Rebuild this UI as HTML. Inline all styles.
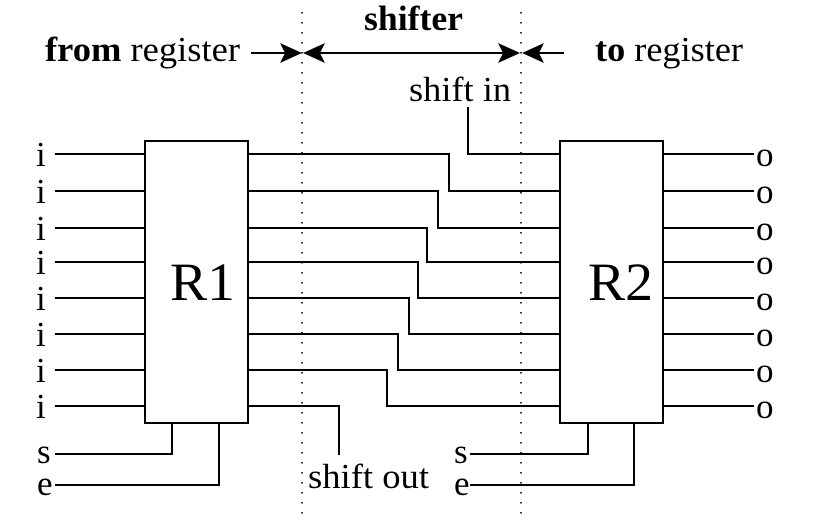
<!DOCTYPE html>
<html><head><meta charset="utf-8"><style>html,body{margin:0;padding:0;background:#fff}svg{display:block}</style></head>
<body>
<svg width="831" height="526" viewBox="0 0 831 526" xmlns="http://www.w3.org/2000/svg" font-family="'Liberation Serif', serif" fill="#000">
<g stroke="#000" stroke-width="1.6" fill="none" stroke-dasharray="1.5 8.5">
<line x1="302" y1="12" x2="302" y2="515"/>
<line x1="521" y1="12" x2="521" y2="515"/>
</g>
<g stroke="#000" stroke-width="2" fill="none">
<rect x="145" y="141" width="103" height="282"/>
<rect x="560" y="141" width="103" height="282"/>
<line x1="55" y1="154" x2="145" y2="154"/>
<line x1="55" y1="191" x2="145" y2="191"/>
<line x1="55" y1="228" x2="145" y2="228"/>
<line x1="55" y1="262" x2="145" y2="262"/>
<line x1="55" y1="298" x2="145" y2="298"/>
<line x1="55" y1="334" x2="145" y2="334"/>
<line x1="55" y1="370" x2="145" y2="370"/>
<line x1="55" y1="406" x2="145" y2="406"/>
<line x1="663" y1="154" x2="754" y2="154"/>
<line x1="663" y1="191" x2="754" y2="191"/>
<line x1="663" y1="228" x2="754" y2="228"/>
<line x1="663" y1="262" x2="754" y2="262"/>
<line x1="663" y1="298" x2="754" y2="298"/>
<line x1="663" y1="334" x2="754" y2="334"/>
<line x1="663" y1="370" x2="754" y2="370"/>
<line x1="663" y1="406" x2="754" y2="406"/>
<polyline points="468,107 468,154 560,154"/>
<polyline points="248,154 449,154 449,191 560,191"/>
<polyline points="248,191 438,191 438,228 560,228"/>
<polyline points="248,228 427,228 427,262 560,262"/>
<polyline points="248,262 418,262 418,298 560,298"/>
<polyline points="248,298 409,298 409,334 560,334"/>
<polyline points="248,334 398,334 398,370 560,370"/>
<polyline points="248,370 387,370 387,406 560,406"/>
<polyline points="248,406 339,406 339,455"/>
<polyline points="55,454 172,454 172,423"/>
<polyline points="55,485 219,485 219,423"/>
<polyline points="470,454 588,454 588,423"/>
<polyline points="470,485 634,485 634,423"/>
<line x1="251" y1="53" x2="290" y2="53"/>
<line x1="314" y1="53" x2="509" y2="53"/>
<line x1="533" y1="53" x2="564" y2="53"/>
</g>
<g fill="#000">
<path d="M302,53 L280,43 L285,53 L280,63 Z"/>
<path d="M303,53 L325,43 L320,53 L325,63 Z"/>
<path d="M520,53 L498,43 L503,53 L498,63 Z"/>
<path d="M522,53 L544,43 L539,53 L544,63 Z"/>
</g>
<g font-size="35">
<text x="45" y="61" textLength="195" lengthAdjust="spacingAndGlyphs"><tspan font-weight="bold">from</tspan> register</text>
<text x="364" y="30" font-weight="bold" textLength="99" lengthAdjust="spacingAndGlyphs">shifter</text>
<text x="595" y="61" textLength="148" lengthAdjust="spacingAndGlyphs"><tspan font-weight="bold">to</tspan> register</text>
<text x="409" y="101" textLength="102" lengthAdjust="spacingAndGlyphs">shift in</text>
<text x="308" y="488" textLength="121" lengthAdjust="spacingAndGlyphs">shift out</text>
<text x="36" y="166">i</text>
<text x="36" y="203">i</text>
<text x="36" y="240">i</text>
<text x="36" y="274">i</text>
<text x="36" y="310">i</text>
<text x="36" y="346">i</text>
<text x="36" y="382">i</text>
<text x="36" y="418">i</text>
<text x="756" y="166">o</text>
<text x="756" y="203">o</text>
<text x="756" y="240">o</text>
<text x="756" y="274">o</text>
<text x="756" y="310">o</text>
<text x="756" y="346">o</text>
<text x="756" y="382">o</text>
<text x="756" y="418">o</text>
<text x="37" y="463">s</text>
<text x="37" y="495">e</text>
<text x="454" y="463">s</text>
<text x="454" y="495">e</text>
</g>
<g font-size="54">
<text x="170" y="300" textLength="65" lengthAdjust="spacingAndGlyphs">R1</text>
<text x="588" y="300" textLength="65" lengthAdjust="spacingAndGlyphs">R2</text>
</g>
</svg>
</body></html>
